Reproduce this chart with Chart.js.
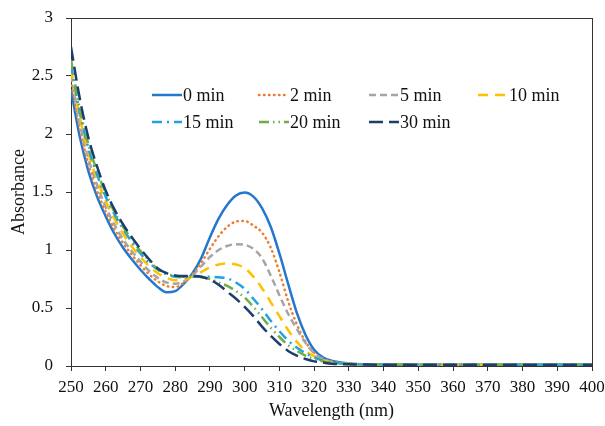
<!DOCTYPE html>
<html>
<head>
<meta charset="utf-8">
<script src="https://cdn.jsdelivr.net/npm/chart.js@4.4.0/dist/chart.umd.min.js"></script>
<style>
    html, body { margin: 0; padding: 0; background: #fff; }
    #wrap { width: 605px; height: 426px; }
</style>
</head>
<body>
<div id="wrap"><canvas id="spectra" width="605" height="426"></canvas></div>
<script>
var wavelengths = [250, 252.5, 255, 257.5, 260, 262.5, 265, 267.5, 270, 272.5, 275, 277.5, 280, 282.5, 285, 287.5,
    290, 292.5, 295, 297.5, 300, 302.5, 305, 307.5, 310, 312.5, 315, 317.5, 320, 322.5, 325, 330, 335, 340,
    350, 360, 370, 380, 390, 400];

var abs0 = [2.38, 1.98, 1.68, 1.46, 1.29, 1.14, 1.02, 0.92, 0.83, 0.75, 0.68, 0.635, 0.645, 0.71, 0.80, 0.93,
    1.11, 1.27, 1.39, 1.47, 1.495, 1.46, 1.36, 1.20, 0.97, 0.71, 0.46, 0.27, 0.14, 0.075, 0.045, 0.022, 0.015, 0.012,
    0.01, 0.01, 0.01, 0.01, 0.01, 0.01];
var abs2 = [2.46, 2.05, 1.74, 1.51, 1.33, 1.18, 1.06, 0.96, 0.87, 0.79, 0.73, 0.69, 0.68, 0.72, 0.79, 0.89,
    1.01, 1.12, 1.20, 1.245, 1.25, 1.21, 1.15, 1.02, 0.81, 0.56, 0.36, 0.21, 0.115, 0.065, 0.038, 0.02, 0.014, 0.012,
    0.01, 0.01, 0.01, 0.01, 0.01, 0.01];
var abs5 = [2.51, 2.10, 1.79, 1.56, 1.37, 1.22, 1.09, 0.99, 0.90, 0.82, 0.76, 0.72, 0.71, 0.73, 0.78, 0.86,
    0.94, 1.00, 1.035, 1.05, 1.045, 1.01, 0.93, 0.78, 0.61, 0.45, 0.32, 0.20, 0.11, 0.06, 0.035, 0.02, 0.014, 0.012,
    0.01, 0.01, 0.01, 0.01, 0.01, 0.01];
var abs10 = [2.56, 2.15, 1.84, 1.61, 1.42, 1.27, 1.14, 1.03, 0.94, 0.86, 0.80, 0.76, 0.74, 0.745, 0.77, 0.81,
    0.85, 0.875, 0.885, 0.875, 0.845, 0.77, 0.67, 0.55, 0.43, 0.31, 0.21, 0.13, 0.085, 0.05, 0.03, 0.018, 0.013, 0.012,
    0.01, 0.01, 0.01, 0.01, 0.01, 0.01];
var abs15 = [2.60, 2.19, 1.88, 1.65, 1.46, 1.31, 1.18, 1.07, 0.97, 0.89, 0.83, 0.79, 0.77, 0.765, 0.77, 0.77,
    0.77, 0.765, 0.755, 0.72, 0.665, 0.58, 0.49, 0.39, 0.30, 0.22, 0.16, 0.11, 0.075, 0.045, 0.03, 0.018, 0.013, 0.012,
    0.01, 0.01, 0.01, 0.01, 0.01, 0.01];
var abs20 = [2.64, 2.22, 1.91, 1.68, 1.49, 1.33, 1.20, 1.09, 0.99, 0.91, 0.835, 0.80, 0.775, 0.77, 0.77, 0.765,
    0.75, 0.72, 0.69, 0.645, 0.59, 0.51, 0.42, 0.33, 0.25, 0.18, 0.13, 0.09, 0.06, 0.04, 0.028, 0.017, 0.013, 0.012,
    0.01, 0.01, 0.01, 0.01, 0.01, 0.01];
var abs30 = [2.75, 2.31, 1.97, 1.72, 1.51, 1.35, 1.22, 1.11, 1.01, 0.92, 0.84, 0.80, 0.78, 0.775, 0.775, 0.77,
    0.745, 0.70, 0.64, 0.58, 0.51, 0.43, 0.34, 0.26, 0.19, 0.13, 0.09, 0.06, 0.04, 0.03, 0.02, 0.015, 0.012, 0.011,
    0.01, 0.01, 0.01, 0.01, 0.01, 0.01];

var seriesNames = ['0 min', '2 min', '5 min', '10 min', '15 min', '20 min', '30 min'];
var seriesValues = [abs0, abs2, abs5, abs10, abs15, abs20, abs30];

var lineColors = ['#2477cf', '#ed7d31', '#a5a5a5', '#ffc000', '#1fa3e0', '#70ad47', '#1b3e6f'];
var lineDashes = [[], [0.5, 4.5], [7, 4], [10, 7], [10, 5, 2, 5], [10, 4, 1.5, 4, 1.5, 4], [14, 6]];
var lineCaps = ['butt', 'round', 'butt', 'butt', 'butt', 'butt', 'butt'];

var fontFamily = '"Liberation Serif", "Times New Roman", serif';
var axisColor = '#333';

// legend sits in a 4 column grid inside the plot
var legendCols = [152, 259, 369, 478];
var legendRows = [95, 122];
var legendLine = 30;

function buildDatasets() {
    return seriesNames.map(function (name, i) {
        return {
            label: name,
            data: wavelengths.map(function (w, j) {
                return {x: w, y: seriesValues[i][j]};
            }),
            borderColor: lineColors[i],
            borderWidth: 2.5,
            borderDash: lineDashes[i],
            borderCapStyle: lineCaps[i],
            pointRadius: 0,
            fill: false,
            cubicInterpolationMode: 'monotone',
            order: seriesNames.length - i
        };
    });
}

var frameBox = {
    id: 'frameBox',
    beforeDatasetsDraw: function (chart) {
        var a = chart.chartArea, ctx = chart.ctx;
        ctx.save();
        ctx.strokeStyle = axisColor;
        ctx.lineWidth = 1;
        ctx.strokeRect(a.left + 0.5, a.top + 0.5, a.right - a.left, a.bottom - a.top);
        ctx.restore();
    }
};

var gridLegend = {
    id: 'gridLegend',
    afterDraw: function (chart) {
        var ctx = chart.ctx;
        ctx.save();
        ctx.font = '18px ' + fontFamily;
        ctx.textBaseline = 'middle';
        ctx.fillStyle = '#111';
        chart.data.datasets.forEach(function (ds, i) {
            var x = legendCols[i % 4], y = legendRows[Math.floor(i / 4)];
            ctx.beginPath();
            ctx.strokeStyle = ds.borderColor;
            ctx.lineWidth = ds.borderWidth;
            ctx.lineCap = ds.borderCapStyle;
            ctx.setLineDash(ds.borderDash);
            ctx.moveTo(x, y);
            ctx.lineTo(x + legendLine, y);
            ctx.stroke();
            ctx.setLineDash([]);
            ctx.fillText(ds.label, x + legendLine + 1, y + 1);
        });
        ctx.restore();
    }
};

function drawChart() {
    var ctx = document.getElementById('spectra').getContext('2d');
    new Chart(ctx, {
        type: 'line',
        data: {datasets: buildDatasets()},
        plugins: [frameBox, gridLegend],
        options: {
            responsive: false,
            animation: false,
            layout: {padding: {left: 0, right: 13, top: 18, bottom: 0}},
            plugins: {
                legend: {display: false},
                tooltip: {enabled: false}
            },
            scales: {
                x: {
                    type: 'linear',
                    min: 250,
                    max: 400,
                    ticks: {
                        stepSize: 10,
                        padding: 6,
                        color: '#111',
                        font: {family: fontFamily, size: 17},
                        maxRotation: 0,
                        autoSkip: false
                    },
                    grid: {drawOnChartArea: false, drawTicks: true, tickLength: 5, color: axisColor},
                    border: {color: axisColor},
                    title: {
                        display: true,
                        text: 'Wavelength (nm)',
                        color: '#111',
                        font: {family: fontFamily, size: 18},
                        padding: {top: 0, bottom: 4}
                    },
                    afterFit: function (scale) {
                        scale.height = 60;
                        scale.paddingLeft = 0;
                        scale.paddingRight = 0;
                    }
                },
                y: {
                    min: 0,
                    max: 3,
                    ticks: {
                        stepSize: 0.5,
                        padding: 13,
                        color: '#111',
                        font: {family: fontFamily, size: 17},
                        callback: function (v) { return String(v); }
                    },
                    grid: {drawOnChartArea: false, drawTicks: true, tickLength: 5, color: axisColor},
                    border: {color: axisColor},
                    title: {
                        display: true,
                        text: 'Absorbance',
                        color: '#111',
                        font: {family: fontFamily, size: 18},
                        padding: {top: 8, bottom: 0}
                    },
                    afterFit: function (scale) {
                        scale.width = 71;
                        scale.paddingTop = 0;
                        scale.paddingBottom = 0;
                    }
                }
            }
        }
    });
}

drawChart();
</script>
</body>
</html>
